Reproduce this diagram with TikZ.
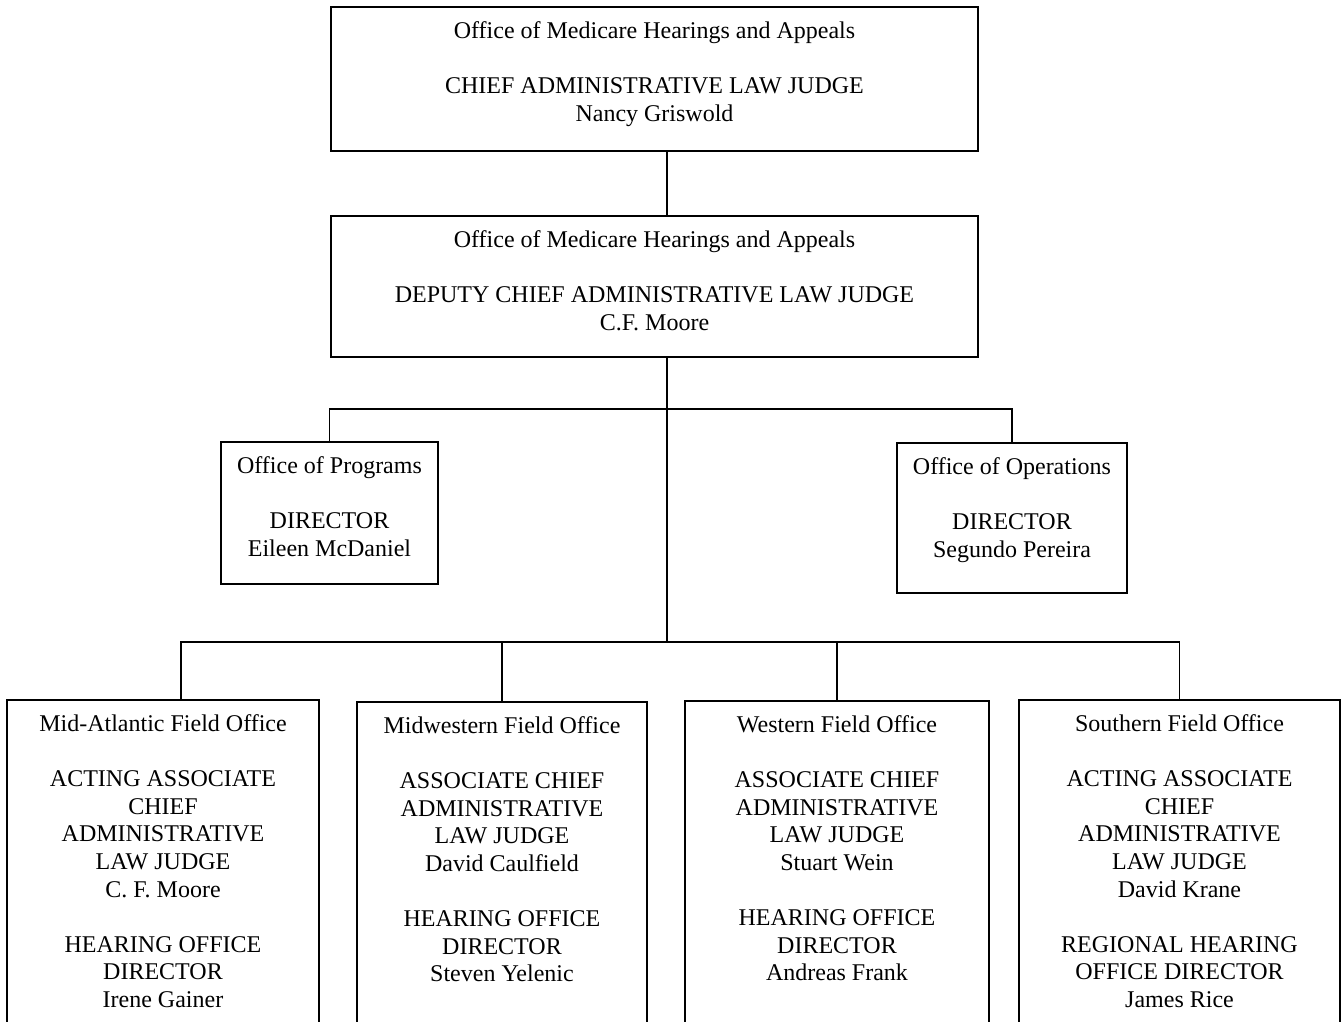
\documentclass[tikz,border=0pt]{standalone}
\usepackage{fontspec}
\setmainfont{Liberation Serif}
\usetikzlibrary{fit}
\begin{document}
\begin{tikzpicture}[x=1pt,y=-1pt,
  box/.style={draw=black, line width=1.8pt, inner sep=0pt, outer sep=0pt},
  txt/.style={anchor=north, align=center, inner sep=0pt, font=\fontsize{24}{27.6}\selectfont}]
\clip (0,0) rectangle (1341,1022);
\fill[white] (0,0) rectangle (1341,1022);
% boxes
\node[box, fit={(331,7) (978,151)}] (chief) {};
\node[box, fit={(331,216) (978,357)}] (deputy) {};
\node[box, fit={(221,442) (438,584)}] (prog) {};
\node[box, fit={(897,443) (1127,593)}] (ops) {};
\node[box, fit={(7,700) (319,1060)}] (midatl) {};
\node[box, fit={(357,702) (647,1060)}] (midwest) {};
\node[box, fit={(685,701) (989,1060)}] (western) {};
\node[box, fit={(1019,700) (1340,1060)}] (southern) {};
% texts
\node[txt] (chiefT) at ([yshift=-12pt]chief.north) {\strut Office of Medicare Hearings and Appeals\\[27.6pt]CHIEF ADMINISTRATIVE LAW JUDGE\\Nancy Griswold};
\node[txt] (deputyT) at ([yshift=-12pt]deputy.north) {\strut Office of Medicare Hearings and Appeals\\[27.6pt]DEPUTY CHIEF ADMINISTRATIVE LAW JUDGE\\C.F. Moore};
\node[txt] (progT) at ([yshift=-12pt]prog.north) {\strut Office of Programs\\[27.6pt]DIRECTOR\\Eileen McDaniel};
\node[txt] (opsT) at ([yshift=-12pt]ops.north) {\strut Office of Operations\\[27.6pt]DIRECTOR\\Segundo Pereira};
\node[txt] (midatlT) at ([yshift=-12pt]midatl.north) {\strut Mid-Atlantic Field Office\\[27.6pt]ACTING ASSOCIATE\\CHIEF\\ADMINISTRATIVE\\LAW JUDGE\\C. F. Moore\\[27.6pt]HEARING OFFICE\\DIRECTOR\\Irene Gainer};
\node[txt] (midwestT) at ([yshift=-12pt]midwest.north) {\strut Midwestern Field Office\\[27.6pt]ASSOCIATE CHIEF\\ADMINISTRATIVE\\LAW JUDGE\\David Caulfield\\[27.6pt]HEARING OFFICE\\DIRECTOR\\Steven Yelenic};
\node[txt] (westernT) at ([yshift=-12pt]western.north) {\strut Western Field Office\\[27.6pt]ASSOCIATE CHIEF\\ADMINISTRATIVE\\LAW JUDGE\\Stuart Wein\\[27.6pt]HEARING OFFICE\\DIRECTOR\\Andreas Frank};
\node[txt] (southernT) at ([yshift=-12pt]southern.north) {\strut Southern Field Office\\[27.6pt]ACTING ASSOCIATE\\CHIEF\\ADMINISTRATIVE\\LAW JUDGE\\David Krane\\[27.6pt]REGIONAL HEARING\\OFFICE DIRECTOR\\James Rice};
% connectors
\coordinate (spine) at (667,0);
\coordinate (busA) at (0,409);
\coordinate (busB) at (0,642);
\coordinate (dropA) at (181,0);
\begin{scope}[line width=1.8pt]
\draw (chief.south -| spine) -- (deputy.north -| spine);
\draw (deputy.south -| spine) -- (busB -| spine);
\draw (prog.north) |- (ops.north |- busA) -- (ops.north);
\draw (midatl.north -| dropA) |- (southern.north |- busB) -- (southern.north);
\draw (midwest.north) -- (midwest.north |- busB);
\draw (western.north) -- (western.north |- busB);
\end{scope}
\end{tikzpicture}
\end{document}
